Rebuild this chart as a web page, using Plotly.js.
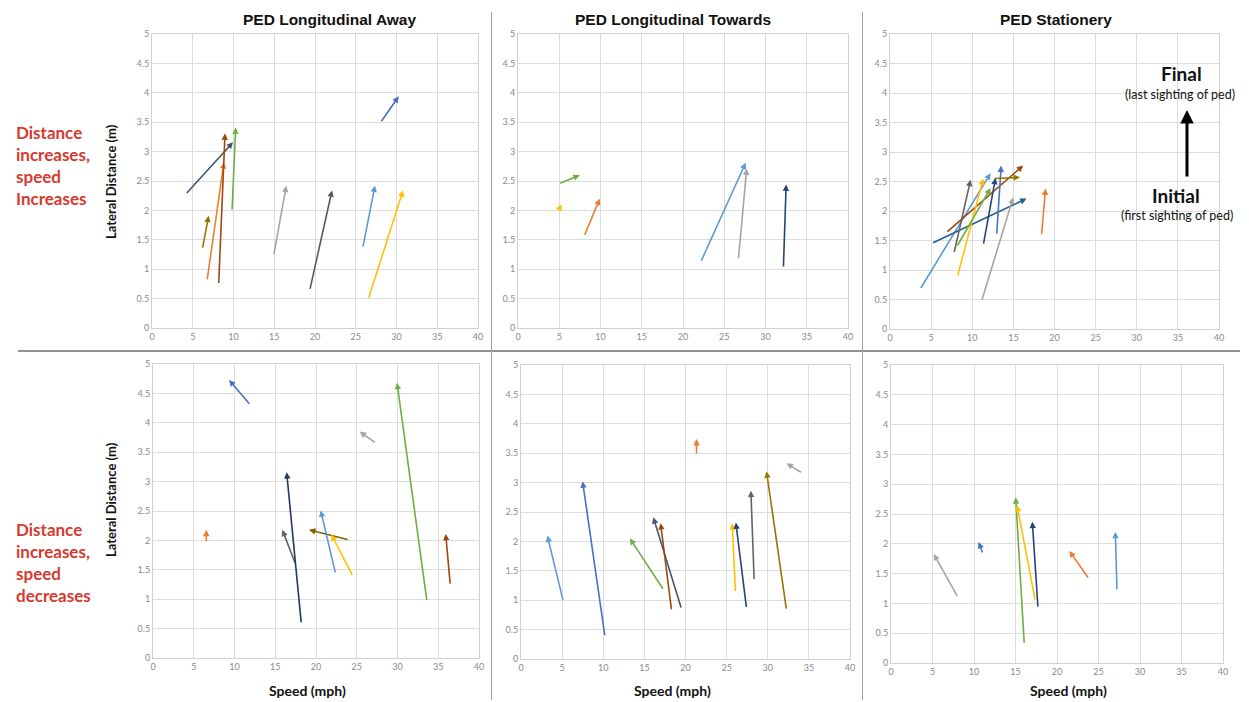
<!DOCTYPE html>
<html>
<head>
<meta charset="utf-8">
<script src="https://cdn.plot.ly/plotly-3.0.1.min.js"></script>
<style>html,body{margin:0;padding:0;background:#fff;}#chart{width:1249px;height:702px;}</style>
</head>
<body>
<div id="chart"></div>
<script>
// ---------- DATA (speed in mph, lateral distance in m) ----------
// Each arrow: initial (speed0, dist0) -> final (speed1, dist1)

// Row 1: Distance increases, speed increases — PED Longitudinal Away
const incAwaySpeed0 = [4.1, 6.75, 8.18, 9.82, 6.18, 14.93, 19.35, 25.85, 26.54, 28.02];
const incAwayDist0  = [2.27, 0.80, 0.74, 1.99, 1.34, 1.23, 0.64, 1.36, 0.49, 3.49];
const incAwaySpeed1 = [9.94, 8.83, 8.96, 10.27, 6.95, 16.48, 22.09, 27.36, 30.80, 30.27];
const incAwayDist1  = [3.16, 2.82, 3.31, 3.41, 1.91, 2.42, 2.34, 2.42, 2.34, 3.94];
const incAwayColor  = ['#44546a', '#ed7d31', '#9e480e', '#70ad47', '#997300', '#a5a5a5', '#595959', '#5b9bd5', '#ffc000', '#4472c4'];

// Row 1: PED Longitudinal Towards
const incTowSpeed0 = [4.94, 4.98, 8.01, 22.14, 26.71, 32.17];
const incTowDist0  = [2.45, 2.02, 1.56, 1.12, 1.16, 1.02];
const incTowSpeed1 = [7.49, 5.30, 9.92, 27.60, 27.72, 32.50];
const incTowDist1  = [2.60, 2.10, 2.20, 2.81, 2.71, 2.44];
const incTowColor  = ['#70ad47', '#ffc000', '#ed7d31', '#5b9bd5', '#a5a5a5', '#264478'];

// Row 1: PED Stationery
const incStaSpeed0 = [3.64, 5.06, 6.80, 7.77, 8.18, 8.10, 11.34, 12.96, 12.5, 11.13, 18.42];
const incStaDist0  = [0.67, 1.45, 1.63, 1.28, 0.88, 1.39, 1.42, 1.59, 2.55, 0.47, 1.58];
const incStaSpeed1 = [12.23, 16.60, 16.19, 9.80, 11.34, 12.23, 12.83, 13.52, 15.8, 14.98, 18.91];
const incStaDist1  = [2.64, 2.21, 2.77, 2.53, 2.55, 2.39, 2.56, 2.77, 2.57, 2.23, 2.38];
const incStaColor  = ['#5b9bd5', '#255e91', '#9e480e', '#636363', '#ffc000', '#70ad47', '#264478', '#4472c4', '#997300', '#a5a5a5', '#ed7d31'];

// Row 2: Distance increases, speed decreases — PED Longitudinal Away
const decAwaySpeed0 = [11.98, 6.54, 17.5, 18.2, 24.05, 22.41, 24.54, 27.40, 33.62, 36.48];
const decAwayDist0  = [4.30, 1.96, 1.59, 0.58, 2.01, 1.43, 1.39, 3.65, 0.96, 1.24];
const decAwaySpeed1 = [9.33, 6.54, 15.87, 16.40, 19.14, 20.57, 21.88, 25.36, 29.94, 35.91];
const decAwayDist1  = [4.73, 2.18, 2.18, 3.16, 2.18, 2.51, 2.10, 3.85, 4.68, 2.11];
const decAwayColor  = ['#4472c4', '#ed7d31', '#636363', '#1f3864', '#7f6000', '#5b9bd5', '#ffc000', '#a5a5a5', '#70ad47', '#9e480e'];

// Row 2: PED Longitudinal Towards
const decTowSpeed0 = [5.14, 10.21, 17.37, 19.52, 18.31, 21.34, 26.08, 27.42, 28.35, 32.28, 34.22];
const decTowDist0  = [0.98, 0.38, 1.17, 0.85, 0.82, 3.47, 1.13, 0.86, 1.33, 0.83, 3.16];
const decTowSpeed1 = [3.20, 7.49, 13.24, 16.08, 16.97, 21.34, 25.68, 26.12, 27.95, 29.85, 32.28];
const decTowDist1  = [2.10, 3.02, 2.05, 2.41, 2.31, 3.74, 2.31, 2.32, 2.86, 3.19, 3.33];
const decTowColor  = ['#5b9bd5', '#4472c4', '#70ad47', '#44546a', '#9e480e', '#ed7d31', '#ffc000', '#264478', '#636363', '#997300', '#a5a5a5'];

// Row 2: PED Stationery
const decStaSpeed0 = [8.07, 11.08, 16.06, 17.39, 17.71, 23.86, 27.23];
const decStaDist0  = [1.10, 1.83, 0.31, 1.04, 0.92, 1.41, 1.21];
const decStaSpeed1 = [5.14, 10.56, 15.02, 15.18, 17.03, 21.49, 27.03];
const decStaDist1  = [1.83, 2.03, 2.78, 2.65, 2.37, 1.88, 2.20];
const decStaColor  = ['#a5a5a5', '#4472c4', '#70ad47', '#ffc000', '#264478', '#ed7d31', '#5b9bd5'];

const panelTitles = ['PED Longitudinal Away', 'PED Longitudinal Towards', 'PED Stationery'];
const rowLabels = ['Distance<br>increases,<br>speed<br>Increases', 'Distance<br>increases,<br>speed<br>decreases'];
const xTitle = 'Speed (mph)';
const yTitle = 'Lateral Distance (m)';

// ---------- LAYOUT ----------
const W = 1249, H = 702;
const px = v => v / W;
const py = v => 1 - v / H;

// plot area boxes in pixels [x0, x1, yTop, yBottom]
const boxes = [
  [152, 478, 34, 328],
  [518, 848, 34, 328],
  [890, 1219, 34, 329],
  [153, 479, 364, 658],
  [521, 850, 365, 659],
  [891, 1223, 365, 663]
];

const panels = [
  [incAwaySpeed0, incAwayDist0, incAwaySpeed1, incAwayDist1, incAwayColor],
  [incTowSpeed0, incTowDist0, incTowSpeed1, incTowDist1, incTowColor],
  [incStaSpeed0, incStaDist0, incStaSpeed1, incStaDist1, incStaColor],
  [decAwaySpeed0, decAwayDist0, decAwaySpeed1, decAwayDist1, decAwayColor],
  [decTowSpeed0, decTowDist0, decTowSpeed1, decTowDist1, decTowColor],
  [decStaSpeed0, decStaDist0, decStaSpeed1, decStaDist1, decStaColor]
];

const layout = {
  width: W, height: H,
  margin: {l: 0, r: 0, t: 0, b: 0},
  paper_bgcolor: '#ffffff',
  plot_bgcolor: '#ffffff',
  showlegend: false,
  annotations: [],
  shapes: []
};

const tickFont = {family: 'Lato, "Open Sans", sans-serif', size: 9, color: '#8a8a8a'};
const traces = [];

boxes.forEach((b, i) => {
  const n = i + 1;
  const xk = n === 1 ? 'xaxis' : 'xaxis' + n;
  const yk = n === 1 ? 'yaxis' : 'yaxis' + n;
  const xr = n === 1 ? 'x' : 'x' + n;
  const yr = n === 1 ? 'y' : 'y' + n;
  layout[xk] = {
    domain: [px(b[0]), px(b[1])], anchor: yr, range: [0, 40], dtick: 5, tick0: 0,
    showgrid: true, gridcolor: '#dcdcdc', gridwidth: 1, zeroline: false,
    showline: true, linecolor: '#d0d0d0', linewidth: 1, mirror: true,
    ticks: '', tickfont: tickFont, fixedrange: true
  };
  layout[yk] = {
    domain: [py(b[3]), py(b[2])], anchor: xr, range: [0, 5], dtick: 0.5, tick0: 0,
    showgrid: true, gridcolor: '#dcdcdc', gridwidth: 1, zeroline: false,
    showline: true, linecolor: '#d0d0d0', linewidth: 1, mirror: true,
    ticks: '', tickfont: tickFont, fixedrange: true
  };
  traces.push({type: 'scatter', mode: 'markers', x: [], y: [], xaxis: xr, yaxis: yr, hoverinfo: 'skip'});

  const [s0, d0, s1, d1, col] = panels[i];
  for (let k = 0; k < s0.length; k++) {
    layout.annotations.push({
      xref: xr, yref: yr, axref: xr, ayref: yr,
      x: s1[k], y: d1[k], ax: s0[k], ay: d0[k],
      text: '', showarrow: true, arrowhead: 2, arrowsize: 0.8, arrowwidth: 1.6,
      arrowcolor: col[k], standoff: 0, startstandoff: 0
    });
  }
});

// panel titles
const titleX = [329, 673, 1056];
panelTitles.forEach((t, i) => {
  layout.annotations.push({
    xref: 'paper', yref: 'paper', x: px(titleX[i]), y: py(19),
    xanchor: 'center', yanchor: 'middle', showarrow: false, text: '<b>' + t + '</b>',
    font: {family: '"Liberation Sans", Arial, sans-serif', size: 15.5, color: '#111111'}
  });
});

// y-axis titles (left column)
[182, 500].forEach(yc => {
  layout.annotations.push({
    xref: 'paper', yref: 'paper', x: px(111), y: py(yc),
    xanchor: 'center', yanchor: 'middle', showarrow: false, textangle: -90,
    text: '<b>' + yTitle + '</b>',
    font: {family: 'Lato, sans-serif', size: 13, color: '#111111'}
  });
});

// x-axis titles (bottom row)
[307, 672, 1068].forEach(xc => {
  layout.annotations.push({
    xref: 'paper', yref: 'paper', x: px(xc), y: py(690),
    xanchor: 'center', yanchor: 'middle', showarrow: false,
    text: '<b>' + xTitle + '</b>',
    font: {family: 'Lato, sans-serif', size: 14, color: '#111111'}
  });
});

// row labels (red)
[[165, rowLabels[0]], [562, rowLabels[1]]].forEach(([yc, t]) => {
  layout.annotations.push({
    xref: 'paper', yref: 'paper', x: px(14), y: py(yc),
    xanchor: 'left', yanchor: 'middle', align: 'left', showarrow: false,
    text: '<b>' + t + '</b>',
    font: {family: 'Lato, sans-serif', size: 17, color: '#d63a2f'}
  });
});

// Final / Initial legend annotation
layout.annotations.push(
  {xref: 'paper', yref: 'paper', x: px(1181), y: py(73), xanchor: 'center', yanchor: 'middle', showarrow: false,
   text: '<b>Final</b>', font: {family: 'Lato, sans-serif', size: 19, color: '#111'}},
  {xref: 'paper', yref: 'paper', x: px(1180), y: py(94), xanchor: 'center', yanchor: 'middle', showarrow: false,
   text: '(last sighting of ped)', font: {family: 'Lato, sans-serif', size: 12.5, color: '#111'}},
  {xref: 'paper', yref: 'paper', x: px(1176), y: py(195), xanchor: 'center', yanchor: 'middle', showarrow: false,
   text: '<b>Initial</b>', font: {family: 'Lato, sans-serif', size: 19, color: '#111'}},
  {xref: 'paper', yref: 'paper', x: px(1177), y: py(215), xanchor: 'center', yanchor: 'middle', showarrow: false,
   text: '(first sighting of ped)', font: {family: 'Lato, sans-serif', size: 12.5, color: '#111'}},
  {xref: 'paper', yref: 'paper', x: px(1187), y: py(110), ax: 0, ay: 68, axref: 'pixel', ayref: 'pixel',
   text: '', showarrow: true, arrowhead: 2, arrowsize: 0.9, arrowwidth: 3, arrowcolor: '#000', standoff: 0}
);

// dividers
layout.shapes.push(
  {type: 'line', xref: 'paper', yref: 'paper', x0: px(18), x1: px(1240), y0: py(351), y1: py(351),
   line: {color: '#6e6e6e', width: 1.3}},
  {type: 'line', xref: 'paper', yref: 'paper', x0: px(491.5), x1: px(491.5), y0: py(12), y1: py(700),
   line: {color: '#a0a0a0', width: 1}},
  {type: 'line', xref: 'paper', yref: 'paper', x0: px(862.5), x1: px(862.5), y0: py(12), y1: py(700),
   line: {color: '#a0a0a0', width: 1}}
);

Plotly.newPlot('chart', traces, layout, {staticPlot: true, displayModeBar: false});
</script>
</body>
</html>
